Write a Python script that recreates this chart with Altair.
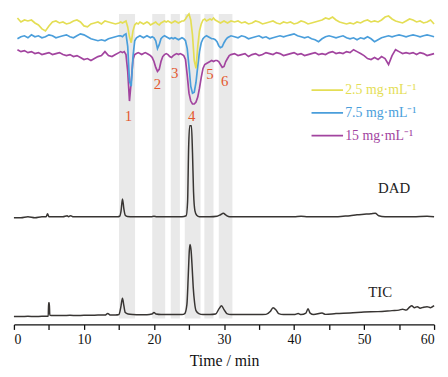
import altair as alt
import numpy as np
import pandas as pd

# ---------------- data ----------------
# shared sampling grid of the three upper (concentration) traces, minutes
t_top = np.concatenate([np.arange(0.5, 15.01, 0.5),
                        np.arange(15.25, 31.01, 0.25),
                        np.arange(31.5, 60.01, 0.5)])

yellow_A = [5, 1, 3, 2, 3, 0, -2, -6, -8, -3, 1, 2, 0, 1, -1, 0, 2, 3, 1, -3,
            -4, -1, 0, 1, -1, 2, 1, 0, -1, 0]
yellow_B = [1, 0, 1, 2, -4, -14, -20, -8, -2, 0, -1, 1, 0, -1, 0, 1, 0, -2, -1, 0,
            1, -1, -2, 0, 1, 2, 1, 2, 1, 0, 1, 2, 1, 0, 1, 2, 2, 4, 7, 9,
            3, -12, -38, -46, -24, -8, -1, 3, 4, 2, 3, 4, 3, 5, 3, 2, 1, 0, 1, 2,
            1, 0, 1, 2]
yellow_C = [1, 2, 0, 1, -1, 0, 2, 1, -1, 0, 1, 2, 0, -1, 1, 0, 1, -1, 0, 2,
            1, -1, 0, 1, 2, 3, 5, 4, 6, 3, 1, 0, -1, 0, -1, 1, 0, 2, 3, 1,
            2, 1, 3, 6, 7, 4, 2, 1, 0, 2, 4, 3, 1, 2, 0, 1, 3, -1]

blue_A = [-2, 0, 1, -1, 2, 0, 1, -1, 0, 2, 1, -1, 0, 1, 2, 0, -1, 1, 3, 2,
          0, -2, -3, -4, -3, -4, -2, -1, 0, 1]
blue_B = [1, 0, 2, 3, -10, -45, -50, -20, -4, -1, 0, 1, 0, -1, 0, 1, 0, -1, 0, -1,
          -4, -12, -8, -2, 0, 1, 0, -1, -2, -1, -2, -1, -2, -3, -2, -1, -2, -4, -12, -30,
          -50, -57, -56, -46, -30, -15, -6, -2, 0, 1, 0, -1, -2, -2, -3, -5, -9, -11, -10, -6,
          -3, -1, 0, 1]
blue_C = [0, -1, 1, 0, -2, -1, 0, 1, -1, 0, -2, -1, 0, 1, 0, 1, 2, 3, 1, 0,
          -1, 0, -2, -3, -5, -2, 0, 1, 0, -1, 0, 1, -1, -2, -1, -3, -1, -2, 0, -2,
          -5, -3, -1, 0, 1, 0, 1, 2, 1, 0, 1, 2, 1, 0, 1, 2, 1, 0]

purple_A = [4, 2, 3, 1, 2, 0, 1, -1, 0, 1, -1, 0, 1, -1, -2, -1, -3, -2, -4, -6,
            -5, -7, -5, -3, -2, 2, -2, -3, -1, 1]
purple_B = [2, 1, 2, -1, -18, -48, -28, -6, -1, 0, 1, 0, -1, 0, 1, 0, -1, -2, -4, -8,
            -14, -18, -16, -8, -3, -1, 0, -1, -3, -4, -2, -1, 0, -1, 0, -1, -2, -6, -22, -40,
            -48, -51, -51, -49, -44, -35, -24, -15, -11, -10, -9, -8, -7, -8, -7, -7, -8, -11, -14, -13,
            -8, -5, -2, -1]
purple_C = [0, -2, -1, 0, -3, -1, 0, -2, -1, 1, 0, -1, 1, 0, -2, -1, 0, 1, -1, 0,
            -2, -1, 0, 1, -1, 0, -1, 1, 2, 0, 1, 0, 2, 1, 4, 2, 0, -2, -5, -6,
            -4, -6, -3, -5, -11, -2, 4, 2, 0, 1, 0, 1, -1, 1, 0, -2, -1, 0]

conc_names = ["2.5 mg·mL⁻¹", "7.5 mg·mL⁻¹", "15 mg·mL⁻¹"]

dad_t = [0, 1, 2, 3, 4, 4.6, 4.8, 5.0, 5.5, 6, 7, 7.6, 7.8, 8.1, 8.4, 9, 10, 11, 12, 13,
         14, 14.8, 15.1, 15.3, 15.5, 15.7, 15.9, 16.2, 17, 18, 19, 19.6, 20, 20.4, 21, 22, 23, 24,
         24.6, 24.8, 24.95, 25.1, 25.35, 25.5, 25.65, 25.85, 26.1, 26.5, 27, 28, 29, 29.5, 29.9,
         30.3, 30.8, 32, 34, 36, 38, 40, 41, 42, 44, 46, 47, 48, 49, 50, 51, 51.6, 52.1, 53,
         55, 57, 59, 60]
dad_v = [-1, -1, 0, -1, 0, 0, 3, 0, 0, 0, 0, 1, 0, 1, 0, 0, 0, 0, 0, 0,
         0, 0, 0.5, 6, 18, 8, 1.5, 0.3, 0, 0, 0, 0, 0.5, 0, 0, 0, 0, 0,
         1, 15, 70, 92, 92, 65, 25, 6, 1.5, 0, 0, 0, 0.5, 2, 3.5,
         1.5, 0, 0, 0, 0, 0, 0, 0.5, 0, 0, 0, 0.5, 1, 2, 2.5, 3, 3.5, 1, 0,
         0, 0, 0.5, 0]

tic_t = [0, 1, 2, 3, 4, 4.9, 4.95, 5.05, 5.12, 5.5, 6, 7, 8, 9, 10, 11, 12, 13, 13.4, 13.8,
         14.5, 15.0, 15.25, 15.5, 15.7, 15.9, 16.3, 17, 18, 19, 19.7, 20.0, 20.3, 21, 22, 23, 24,
         24.4, 24.7, 24.9, 25.05, 25.15, 25.3, 25.45, 25.6, 25.8, 26.0, 26.4, 27, 28, 28.8,
         29.3, 29.65, 30.0, 30.4, 31, 32, 34, 35, 36, 36.6, 37.0, 37.4, 37.8, 38.5, 40, 40.6,
         41, 41.7, 42.0, 42.3, 42.8, 44, 44.5, 46, 48, 50, 52, 54, 55, 55.5, 56, 56.5, 56.8,
         57.2, 57.6, 58, 58.5, 59, 59.5, 60]
tic_v = [0, 0, 0.3, 0, 0.3, 0.3, 14, 14, 1.5, 1, 1, 1, 1.3, 1, 1.3, 1.3, 1.5, 1.5, 3, 1.5,
         1.5, 2, 9, 18.5, 11, 4, 2.5, 2, 1.8, 1.8, 2.5, 4, 2.5, 2, 2, 2, 2,
         3, 12, 42, 67, 73, 67, 50, 30, 14, 6, 3, 2, 2, 2.5,
         8, 11, 7, 3, 2, 2, 2, 2, 2.2, 5, 9, 7, 3, 2, 2, 3,
         2, 3.5, 8, 3.5, 2, 3.5, 2.2, 3, 3.5, 4.5, 5, 6, 6.5, 7.5, 6.5, 9.5, 11,
         9, 10, 8.5, 9.5, 10, 9, 11]

band_start = [15.0, 19.75, 22.4, 24.4, 27.2, 29.25]
band_end = [17.3, 21.6, 23.7, 26.65, 28.5, 31.2]

peak_labels = ["1", "2", "3", "4", "5", "6"]
peak_label_t = [16.36, 20.5, 22.95, 25.39, 28.0, 30.1]
peak_label_v = [211, 243, 254, 211, 253, 246]

detector_labels = ["DAD", "TIC"]
detector_label_t = [54.3, 52.3]
detector_label_v = [138, 33]

x_ticks = list(range(0, 61, 5))

# ---------------- layout / style ----------------
offsets = {"2.5 mg·mL⁻¹": 305, "7.5 mg·mL⁻¹": 291, "15 mg·mL⁻¹": 274, "DAD": 109, "TIC": 8}
colors = {"2.5 mg·mL⁻¹": "#e4de55", "7.5 mg·mL⁻¹": "#4a9edb", "15 mg·mL⁻¹": "#a2449f"}
legend_v = {"2.5 mg·mL⁻¹": 237, "7.5 mg·mL⁻¹": 214, "15 mg·mL⁻¹": 191}
SERIF = "Liberation Serif"

for arr, n in [(yellow_A, 30), (blue_A, 30), (purple_A, 30), (yellow_B, 64), (blue_B, 64),
               (purple_B, 64), (yellow_C, 58), (blue_C, 58), (purple_C, 58)]:
    assert len(arr) == n, (len(arr), n)
assert len(dad_t) == len(dad_v) and len(tic_t) == len(tic_v)

conc_vals = {conc_names[0]: yellow_A + yellow_B + yellow_C,
             conc_names[1]: blue_A + blue_B + blue_C,
             conc_names[2]: purple_A + purple_B + purple_C}

xscale = alt.Scale(domain=[0, 60], nice=False, zero=False)
yscale = alt.Scale(domain=[0, 316], nice=False, zero=False)
xaxis = alt.Axis(values=x_ticks,
                 labelExpr="datum.value % 10 === 0 ? datum.label : ''",
                 title="Time / min")


def xenc(field):
    return alt.X(field, type="quantitative", scale=xscale, axis=xaxis)


def yenc(field):
    return alt.Y(field, type="quantitative", scale=yscale, axis=None)


layers = []

bands = pd.DataFrame({"t": band_start, "t2": band_end})
layers.append(alt.Chart(bands).mark_rect(color="#e9e9e9").encode(
    x=xenc("t"), x2="t2", y=alt.Y(datum=314, scale=yscale, axis=None), y2=alt.datum(6)))

for name in [conc_names[2], conc_names[1], conc_names[0]]:
    df = pd.DataFrame({"t": t_top, "v": np.array(conc_vals[name], dtype=float)})
    df["v"] = df["v"] + offsets[name]
    layers.append(alt.Chart(df).mark_line(color=colors[name], strokeWidth=1.7).encode(
        x=xenc("t"), y=yenc("v")))

for name, tt, vv in [("DAD", dad_t, dad_v), ("TIC", tic_t, tic_v)]:
    df = pd.DataFrame({"t": tt, "v": np.array(vv, dtype=float) + offsets[name]})
    layers.append(alt.Chart(df).mark_line(color="#383533", strokeWidth=1.5,
                                          interpolate="monotone").encode(
        x=xenc("t"), y=yenc("v")))

nums = pd.DataFrame({"t": peak_label_t, "v": peak_label_v, "lab": peak_labels})
layers.append(alt.Chart(nums).mark_text(font=SERIF, fontSize=15, color="#e4572e").encode(
    x=xenc("t"), y=yenc("v"), text="lab:N"))

# manual legend
for name in conc_names:
    ln = pd.DataFrame({"t": [42.5, 47.0], "v": [legend_v[name]] * 2})
    layers.append(alt.Chart(ln).mark_line(color=colors[name], strokeWidth=1.7).encode(
        x=xenc("t"), y=yenc("v")))
    tx = pd.DataFrame({"t": [47.3], "v": [legend_v[name]], "lab": [name]})
    layers.append(alt.Chart(tx).mark_text(font=SERIF, fontSize=14, color=colors[name],
                                          align="left", baseline="middle").encode(
        x=xenc("t"), y=yenc("v"), text="lab:N"))

tags = pd.DataFrame({"t": detector_label_t, "v": detector_label_v, "lab": detector_labels})
layers.append(alt.Chart(tags).mark_text(font=SERIF, fontSize=15, color="#222").encode(
    x=xenc("t"), y=yenc("v"), text="lab:N"))

chart = alt.layer(*layers).properties(
    width=425, height=316,
    autosize=alt.AutoSizeParams(type="none"),
    padding={"left": 6, "top": 2, "right": 6, "bottom": 50},
    background="white",
).configure_view(stroke=None).configure_axisX(
    grid=False, domainColor="#111", domainWidth=1.3, tickColor="#111", tickWidth=1.3,
    tickSize=5, labelFont=SERIF, labelFontSize=14, labelColor="#111", labelPadding=3,
    titleFont=SERIF, titleFontSize=16, titleFontWeight="normal", titleColor="#111",
    titlePadding=7,
)

chart.save("out.html", embed_options={"renderer": "svg", "actions": False})
